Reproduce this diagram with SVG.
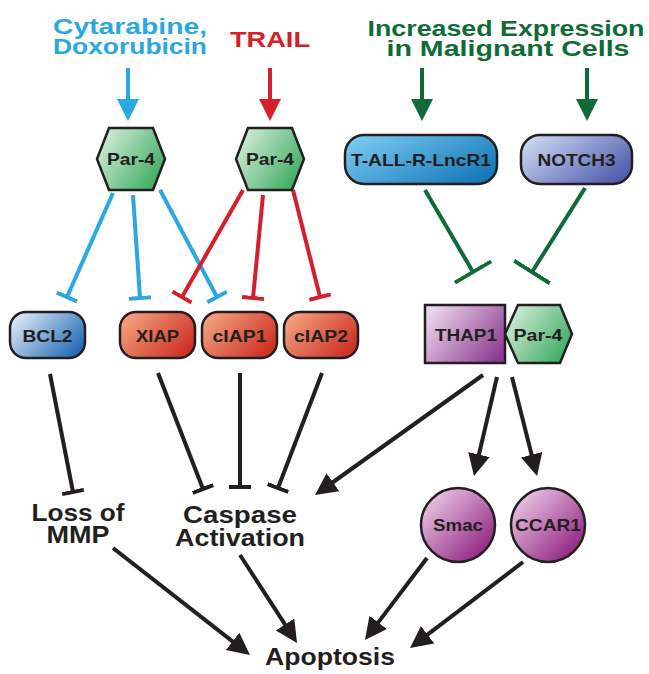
<svg xmlns="http://www.w3.org/2000/svg" width="649" height="674" viewBox="0 0 649 674">
  <style>
    .t { font-family: "Liberation Sans", Arial, sans-serif; font-weight: bold; text-anchor: middle; }
    .node { stroke: #231f20; stroke-width: 2.5; }
    .lbl { font-size: 17px; fill: #231f20; }
    .big { font-size: 24px; fill: #231f20; }
    .head { font-size: 22px; }
    .blue { stroke: #29a9e0; }
    .red { stroke: #d5202b; }
    .green { stroke: #0f6b38; }
    .black { stroke: #231f20; }
    .conn line { stroke-width: 4; fill: none; }
  </style>
  <defs>
    <linearGradient id="gGreen" x1="0" y1="0.2" x2="1" y2="0.8">
      <stop offset="0" stop-color="#d3eedb"/>
      <stop offset="1" stop-color="#38a85b"/>
    </linearGradient>
    <linearGradient id="gBlueLight" x1="0" y1="0.2" x2="1" y2="0.8">
      <stop offset="0" stop-color="#dfeaf6"/>
      <stop offset="1" stop-color="#1b66b2"/>
    </linearGradient>
    <linearGradient id="gOrange" x1="0" y1="0.2" x2="1" y2="0.8">
      <stop offset="0" stop-color="#f3a47f"/>
      <stop offset="1" stop-color="#cc2a1f"/>
    </linearGradient>
    <linearGradient id="gSky" x1="0" y1="0.2" x2="1" y2="0.8">
      <stop offset="0" stop-color="#78c8f0"/>
      <stop offset="1" stop-color="#1376b8"/>
    </linearGradient>
    <linearGradient id="gPeri" x1="0" y1="0.2" x2="1" y2="0.8">
      <stop offset="0" stop-color="#ccd7f1"/>
      <stop offset="1" stop-color="#4a58ab"/>
    </linearGradient>
    <linearGradient id="gLav" x1="0" y1="0.2" x2="1" y2="0.8">
      <stop offset="0" stop-color="#eed7ee"/>
      <stop offset="1" stop-color="#8a3a8e"/>
    </linearGradient>
    <linearGradient id="gMag" x1="0.1" y1="0.1" x2="0.9" y2="0.9">
      <stop offset="0" stop-color="#ebc9e6"/>
      <stop offset="1" stop-color="#8e1f7e"/>
    </linearGradient>

    <!-- arrowheads: line ends 12px short of the tip -->
    <marker id="aBlue" markerUnits="userSpaceOnUse" markerWidth="24" markerHeight="24" refX="10" refY="11" orient="auto">
      <path d="M0,0 L22,11 L0,22 z" fill="#29a9e0"/>
    </marker>
    <marker id="aRed" markerUnits="userSpaceOnUse" markerWidth="24" markerHeight="24" refX="10" refY="11" orient="auto">
      <path d="M0,0 L22,11 L0,22 z" fill="#d5202b"/>
    </marker>
    <marker id="aGreen" markerUnits="userSpaceOnUse" markerWidth="24" markerHeight="24" refX="10" refY="11" orient="auto">
      <path d="M0,0 L22,11 L0,22 z" fill="#0f6b38"/>
    </marker>
    <marker id="aBlack" markerUnits="userSpaceOnUse" markerWidth="24" markerHeight="24" refX="10" refY="11" orient="auto">
      <path d="M0,0 L22,11 L0,22 z" fill="#231f20"/>
    </marker>

    <!-- inhibition bars -->
    <marker id="tBlue" markerUnits="userSpaceOnUse" markerWidth="8" markerHeight="26" refX="2" refY="13" orient="auto">
      <path d="M2,2 L2,24" stroke="#29a9e0" stroke-width="4"/>
    </marker>
    <marker id="tRed" markerUnits="userSpaceOnUse" markerWidth="8" markerHeight="26" refX="2" refY="13" orient="auto">
      <path d="M2,2 L2,24" stroke="#d5202b" stroke-width="4"/>
    </marker>
    <marker id="tGreen" markerUnits="userSpaceOnUse" markerWidth="8" markerHeight="46" refX="2" refY="23" orient="auto">
      <path d="M2,2 L2,44" stroke="#0f6b38" stroke-width="4"/>
    </marker>
    <marker id="tBlack" markerUnits="userSpaceOnUse" markerWidth="8" markerHeight="26" refX="2" refY="13" orient="auto">
      <path d="M2,2 L2,24" stroke="#231f20" stroke-width="4"/>
    </marker>
  </defs>

  <rect width="649" height="674" fill="#ffffff"/>

  <!-- stimuli -->
  <g id="drugs">
    <text class="t head" x="130" y="34" fill="#29a9e0" textLength="154" lengthAdjust="spacingAndGlyphs">Cytarabine,</text>
    <text class="t head" x="130" y="54" fill="#29a9e0" textLength="154" lengthAdjust="spacingAndGlyphs">Doxorubicin</text>
  </g>
  <g id="trail">
    <text class="t head" x="270" y="47" fill="#d5202b" textLength="80" lengthAdjust="spacingAndGlyphs">TRAIL</text>
  </g>
  <g id="expression">
    <text class="t head" x="506" y="36" fill="#0f6b38" textLength="277" lengthAdjust="spacingAndGlyphs">Increased Expression</text>
    <text class="t head" x="508" y="56" fill="#0f6b38" textLength="243" lengthAdjust="spacingAndGlyphs">in Malignant Cells</text>
  </g>

  <!-- connectors -->
  <g id="connectors" class="conn">
    <line class="blue" x1="128" y1="68" x2="128" y2="109" marker-end="url(#aBlue)"/>
    <line class="red" x1="270" y1="68" x2="270" y2="109" marker-end="url(#aRed)"/>
    <line class="green" x1="422" y1="68" x2="422" y2="109" marker-end="url(#aGreen)"/>
    <line class="green" x1="587" y1="68" x2="587" y2="109" marker-end="url(#aGreen)"/>

    <line class="blue" x1="113" y1="193" x2="67" y2="297" marker-end="url(#tBlue)"/>
    <line class="blue" x1="133" y1="195" x2="140" y2="298" marker-end="url(#tBlue)"/>
    <line class="blue" x1="160" y1="190" x2="217" y2="297" marker-end="url(#tBlue)"/>
    <line class="red" x1="243" y1="190" x2="182" y2="297" marker-end="url(#tRed)"/>
    <line class="red" x1="263" y1="195" x2="253" y2="298" marker-end="url(#tRed)"/>
    <line class="red" x1="293" y1="190" x2="320" y2="297" marker-end="url(#tRed)"/>

    <line class="green" x1="425" y1="190" x2="473" y2="272" marker-end="url(#tGreen)"/>
    <line class="green" x1="585" y1="188" x2="532" y2="272" marker-end="url(#tGreen)"/>

    <line class="black" x1="50" y1="374" x2="73" y2="492" marker-end="url(#tBlack)"/>
    <line class="black" x1="158" y1="373" x2="203" y2="489" marker-end="url(#tBlack)"/>
    <line class="black" x1="240" y1="373" x2="240" y2="487" marker-end="url(#tBlack)"/>
    <line class="black" x1="322" y1="373" x2="278" y2="488" marker-end="url(#tBlack)"/>

    <line class="black" x1="483" y1="375" x2="324.8" y2="488" marker-end="url(#aBlack)"/>
    <line class="black" x1="497" y1="377" x2="476.7" y2="464.3" marker-end="url(#aBlack)"/>
    <line class="black" x1="512" y1="377" x2="534.1" y2="464.4" marker-end="url(#aBlack)"/>

    <line class="black" x1="113" y1="548" x2="240.5" y2="647.6" marker-end="url(#aBlack)"/>
    <line class="black" x1="240" y1="555" x2="290.5" y2="632.9" marker-end="url(#aBlack)"/>
    <line class="black" x1="427" y1="558" x2="372.2" y2="630.4" marker-end="url(#aBlack)"/>
    <line class="black" x1="523" y1="562" x2="419.6" y2="640.7" marker-end="url(#aBlack)"/>
  </g>

  <!-- Par-4 induced by chemotherapy -->
  <g id="par4-drugs">
    <polygon class="node" points="97,159 109,128 153,128 165,159 153,190 109,190" fill="url(#gGreen)"/>
    <text class="t lbl" x="131" y="165" textLength="48" lengthAdjust="spacingAndGlyphs">Par-4</text>
  </g>
  <!-- Par-4 induced by TRAIL -->
  <g id="par4-trail">
    <polygon class="node" points="236,159 248,128 292,128 304,159 292,190 248,190" fill="url(#gGreen)"/>
    <text class="t lbl" x="270" y="165" textLength="48" lengthAdjust="spacingAndGlyphs">Par-4</text>
  </g>
  <g id="lncr1">
    <rect class="node" x="345" y="135" width="152" height="49" rx="19" fill="url(#gSky)"/>
    <text class="t lbl" x="421" y="166" textLength="140" lengthAdjust="spacingAndGlyphs">T-ALL-R-LncR1</text>
  </g>
  <g id="notch3">
    <rect class="node" x="521" y="135" width="111" height="49" rx="19" fill="url(#gPeri)"/>
    <text class="t lbl" x="576.5" y="166" textLength="78" lengthAdjust="spacingAndGlyphs">NOTCH3</text>
  </g>

  <g id="bcl2">
    <rect class="node" x="10" y="312" width="75" height="46" rx="16" fill="url(#gBlueLight)"/>
    <text class="t lbl" x="47.5" y="342" textLength="50" lengthAdjust="spacingAndGlyphs">BCL2</text>
  </g>
  <g id="xiap">
    <rect class="node" x="120" y="312" width="75" height="46" rx="16" fill="url(#gOrange)"/>
    <text class="t lbl" x="157.5" y="342" textLength="43" lengthAdjust="spacingAndGlyphs">XIAP</text>
  </g>
  <g id="ciap1">
    <rect class="node" x="202" y="312" width="75" height="46" rx="16" fill="url(#gOrange)"/>
    <text class="t lbl" x="239.5" y="342" textLength="54" lengthAdjust="spacingAndGlyphs">cIAP1</text>
  </g>
  <g id="ciap2">
    <rect class="node" x="284" y="312" width="74" height="46" rx="16" fill="url(#gOrange)"/>
    <text class="t lbl" x="321" y="342" textLength="54" lengthAdjust="spacingAndGlyphs">cIAP2</text>
  </g>

  <g id="thap1-par4">
    <rect class="node" x="425" y="305" width="80" height="58" fill="url(#gLav)"/>
    <text class="t lbl" x="466" y="341" textLength="62" lengthAdjust="spacingAndGlyphs">THAP1</text>
    <polygon class="node" points="505,334 518,305 560,305 572,334 560,363 518,363" fill="url(#gGreen)"/>
    <text class="t lbl" x="538" y="341" textLength="49" lengthAdjust="spacingAndGlyphs">Par-4</text>
  </g>

  <g id="smac">
    <circle class="node" cx="458" cy="525" r="37" fill="url(#gMag)"/>
    <text class="t lbl" x="458" y="531" textLength="50" lengthAdjust="spacingAndGlyphs">Smac</text>
  </g>
  <g id="ccar1">
    <circle class="node" cx="548" cy="525" r="37" fill="url(#gMag)"/>
    <text class="t lbl" x="548" y="531" textLength="66" lengthAdjust="spacingAndGlyphs">CCAR1</text>
  </g>

  <g id="mmp">
    <text class="t big" x="78" y="521" textLength="93" lengthAdjust="spacingAndGlyphs">Loss of</text>
    <text class="t big" x="78" y="543" textLength="63" lengthAdjust="spacingAndGlyphs">MMP</text>
  </g>
  <g id="caspase">
    <text class="t big" x="240" y="523" textLength="114" lengthAdjust="spacingAndGlyphs">Caspase</text>
    <text class="t big" x="240" y="546" textLength="130" lengthAdjust="spacingAndGlyphs">Activation</text>
  </g>
  <g id="apoptosis">
    <text class="t big" x="330" y="665" textLength="130" lengthAdjust="spacingAndGlyphs">Apoptosis</text>
  </g>
</svg>
